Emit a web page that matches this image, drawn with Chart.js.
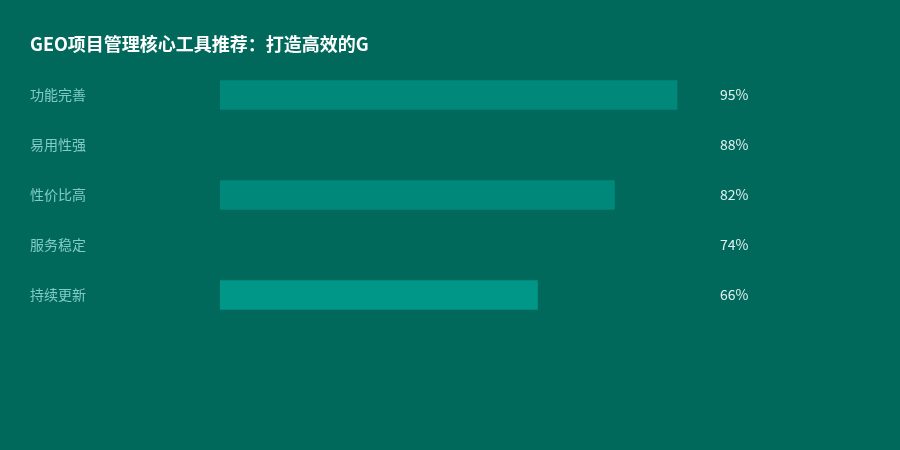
<!DOCTYPE html>
<html>
<head>
<meta charset="utf-8">
<script src="https://cdn.jsdelivr.net/npm/chart.js@4"></script>
<style>
  html, body { margin: 0; padding: 0; background: #00695C; }
  #wrap { width: 900px; height: 450px; }
</style>
</head>
<body>
<div id="wrap"><canvas id="myChart"></canvas></div>
<script>
'use strict';

var titleText = 'GEO项目管理核心工具推荐：打造高效的G';
var categories = ['功能完善', '易用性强', '性价比高', '服务稳定', '持续更新'];
var scores = [95, 88, 82, 74, 66];
// rows 2 and 4 are painted the same as the background in the original
var barColors = ['#00897B', '#00695C', '#00897B', '#00695C', '#009688'];

var FONT = '"Noto Sans CJK SC", "Noto Sans", sans-serif';

// title + percent labels on the right
var extras = {
    id: 'extras',
    afterDatasetsDraw: function (chart) {
        var ctx = chart.ctx;
        var area = chart.chartArea;
        var yScale = chart.scales.y;
        ctx.save();
        ctx.fillStyle = '#FFFFFF';
        ctx.font = 'bold 18px ' + FONT;
        ctx.textAlign = 'left';
        ctx.textBaseline = 'middle';
        ctx.fillText(titleText, 30, 44);

        ctx.fillStyle = '#E0F2F1';
        ctx.font = '14px ' + FONT;
        for (var i = 0; i < scores.length; i++) {
            ctx.fillText(scores[i] + '%', area.right + 19, yScale.getPixelForValue(i));
        }
        ctx.restore();
    }
};

var ctx = document.getElementById('myChart').getContext('2d');

var chart = new Chart(ctx, {
    type: 'bar',
    data: {
        labels: categories,
        datasets: [{
            data: scores,
            backgroundColor: barColors,
            borderWidth: 0,
            barThickness: 29
        }]
    },
    options: {
        indexAxis: 'y',
        responsive: true,
        maintainAspectRatio: false,
        animation: false,
        layout: {
            padding: { top: 70, bottom: 130, left: 30, right: 199 }
        },
        plugins: {
            legend: { display: false },
            tooltip: { enabled: false },
            title: { display: false }
        },
        scales: {
            x: {
                display: false,
                min: 0,
                max: 100
            },
            y: {
                grid: { display: false, drawTicks: false },
                border: { display: false },
                afterFit: function (scale) { scale.width = 190; },
                ticks: {
                    crossAlign: 'far',
                    color: '#80CBC4',
                    font: { family: FONT, size: 14 }
                }
            }
        }
    },
    plugins: [extras]
});
</script>
</body>
</html>
